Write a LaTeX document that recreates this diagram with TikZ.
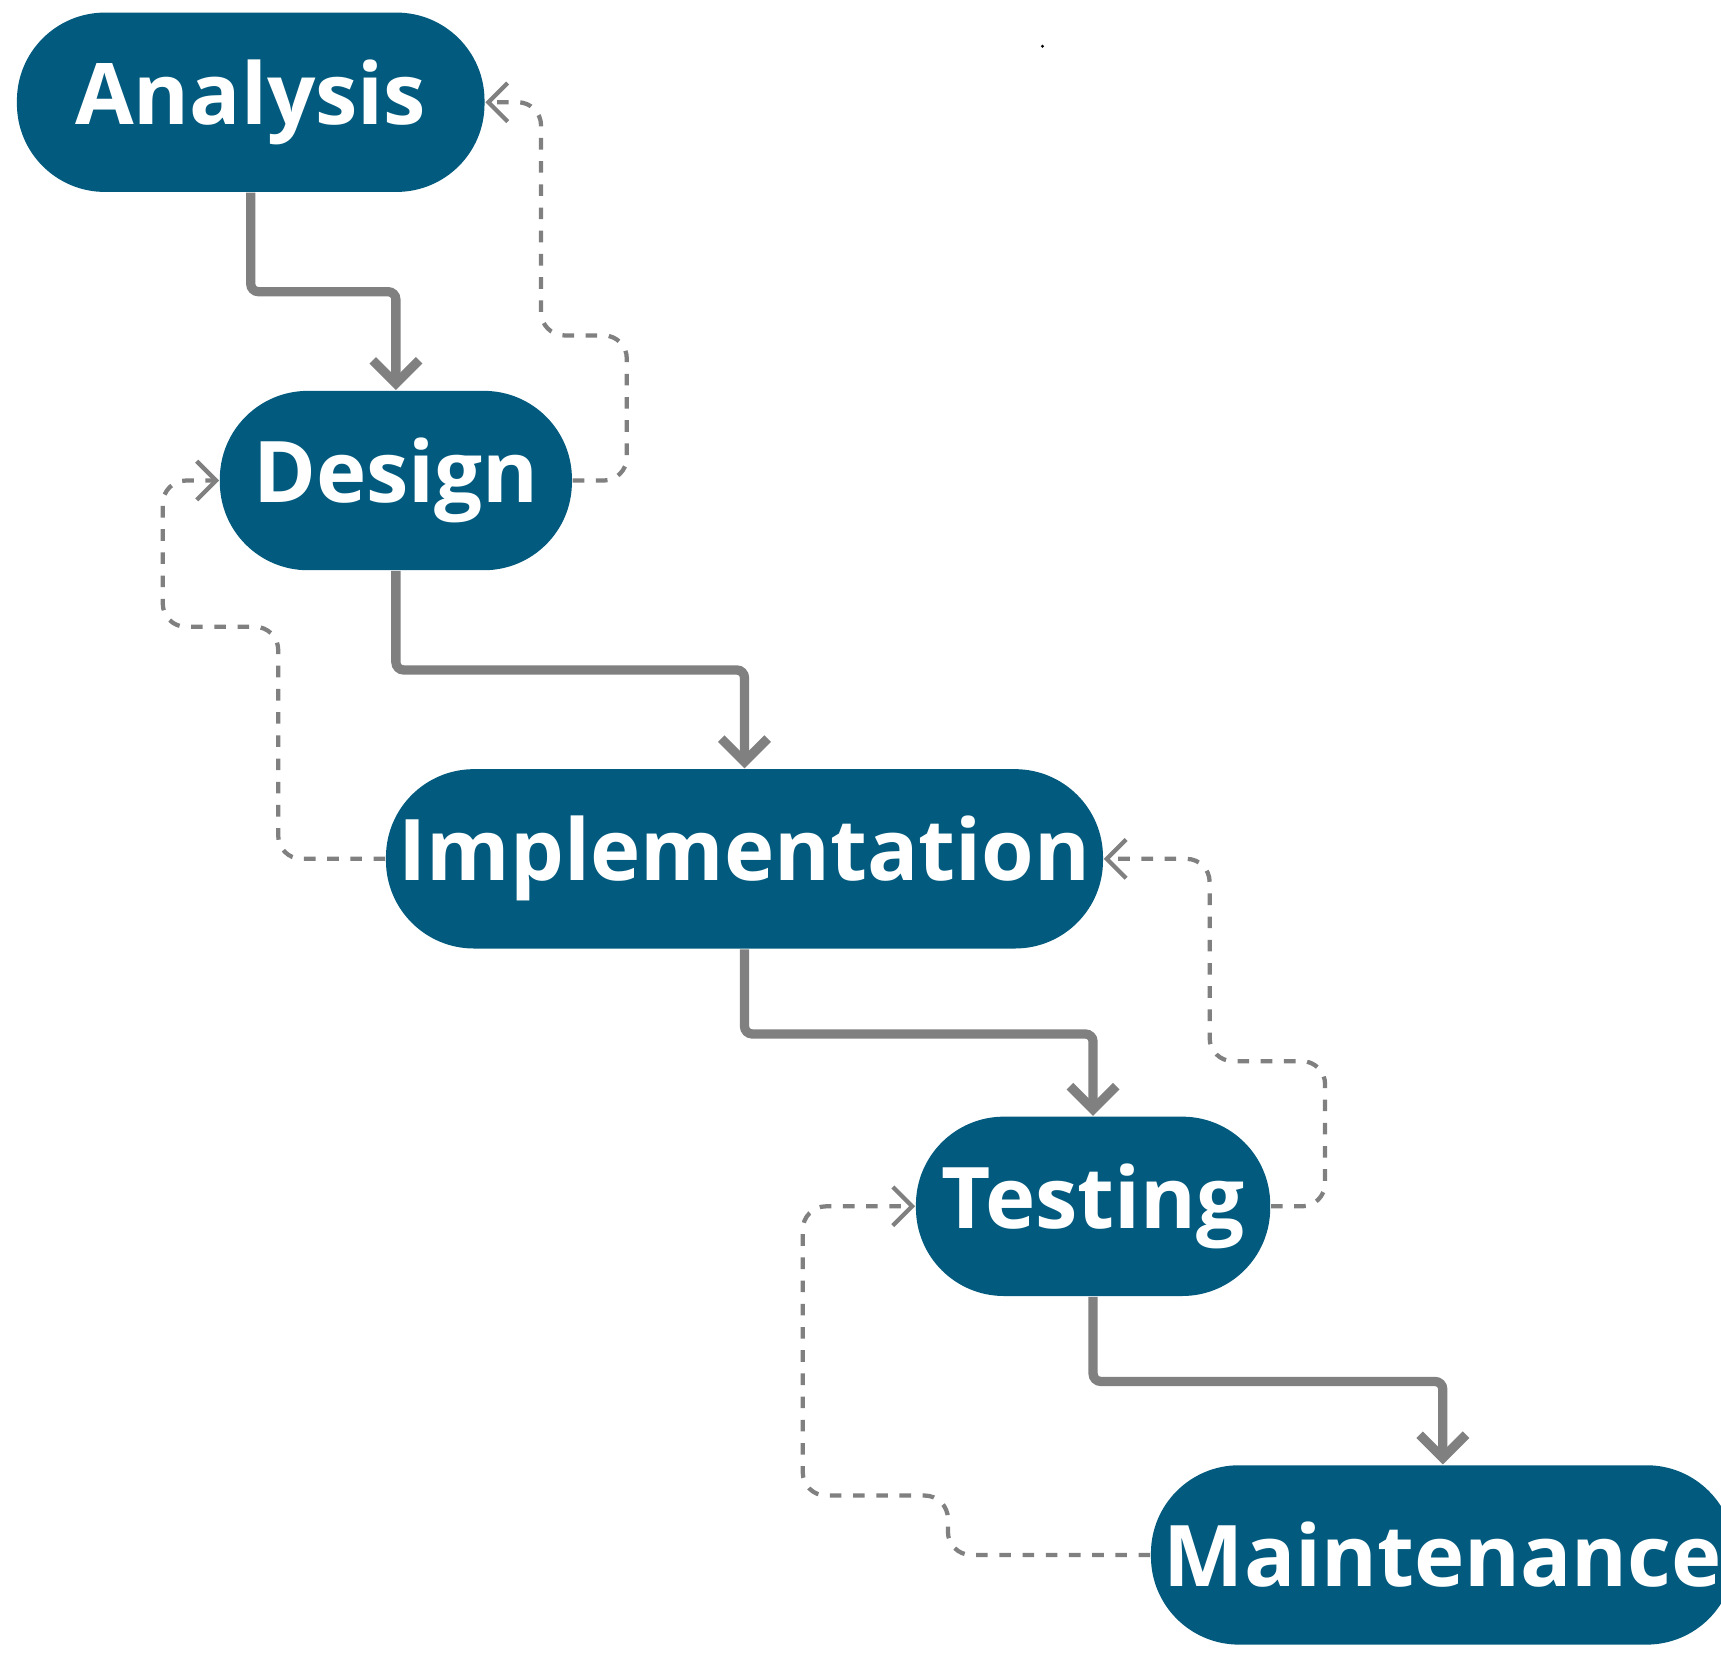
\documentclass[tikz,border=0pt]{standalone}
\usepackage{fontspec}
\setmainfont{Open Sans}
\usetikzlibrary{arrows.meta}
\definecolor{phase}{HTML}{025B7E}
\definecolor{link}{HTML}{808080}
\tikzset{
	phasebox/.style={shape=rectangle, rounded corners=0.8cm, fill=phase, text=white, minimum height=1.63cm, font=\fontsize{22}{26}\selectfont\bfseries},
	flow/.style={draw=link, line width=2.4pt, rounded corners=2pt, -{Straight Barb[length=6pt,width=12pt,line width=2.4pt]}},
	back/.style={draw=link, line width=1.1pt, dashed, rounded corners=6pt, -{Straight Barb[length=5pt,width=10pt,line width=1.1pt]}}
}
\begin{document}
\begin{tikzpicture}[x=0.01cm, y=-0.01cm]
			\useasboundingbox (0,0) rectangle (1565,1510);
			\fill (948,42) circle (1.5);
			
			\node (z1)[phasebox, minimum width=4.25cm] at (228,93) {Analysis};
			\node (z2)[phasebox, minimum width=3.2cm] at (360,437) {Design};
			\node (z3)[phasebox, minimum width=5.83cm] at (677,781) {Implementation};
			\node (z4)[phasebox, minimum width=3.22cm] at (994,1097) {Testing};
			\node (z5)[phasebox, minimum width=4.8cm] at (1312,1414) {Maintenance};
			
			\draw[flow] (z1.south) -- ++(0,90) -| (z2.north);
			\draw[flow] (z2.south) -- ++(0,90) -| (z3.north);
			\draw[flow] (z3.south) -- ++(0,77) -| (z4.north);
			\draw[flow] (z4.south) -- ++(0,77) -| (z5.north);
			
			\draw[back] (z2.east) -- (570,437) -- (570,305) -- (492,305) |- (z1.east);
			\draw[back] (z3.west) -- (253,781) -- (253,570) -- (148,570) |- (z2.west);
			\draw[back] (z4.east) -- (1205,1097) -- (1205,965) -- (1100,965) |- (z3.east);
			\draw[back] (z5.west) -- (862,1414) -- (862,1360) -- (730,1360) |- (z4.west);
\end{tikzpicture}
\end{document}
